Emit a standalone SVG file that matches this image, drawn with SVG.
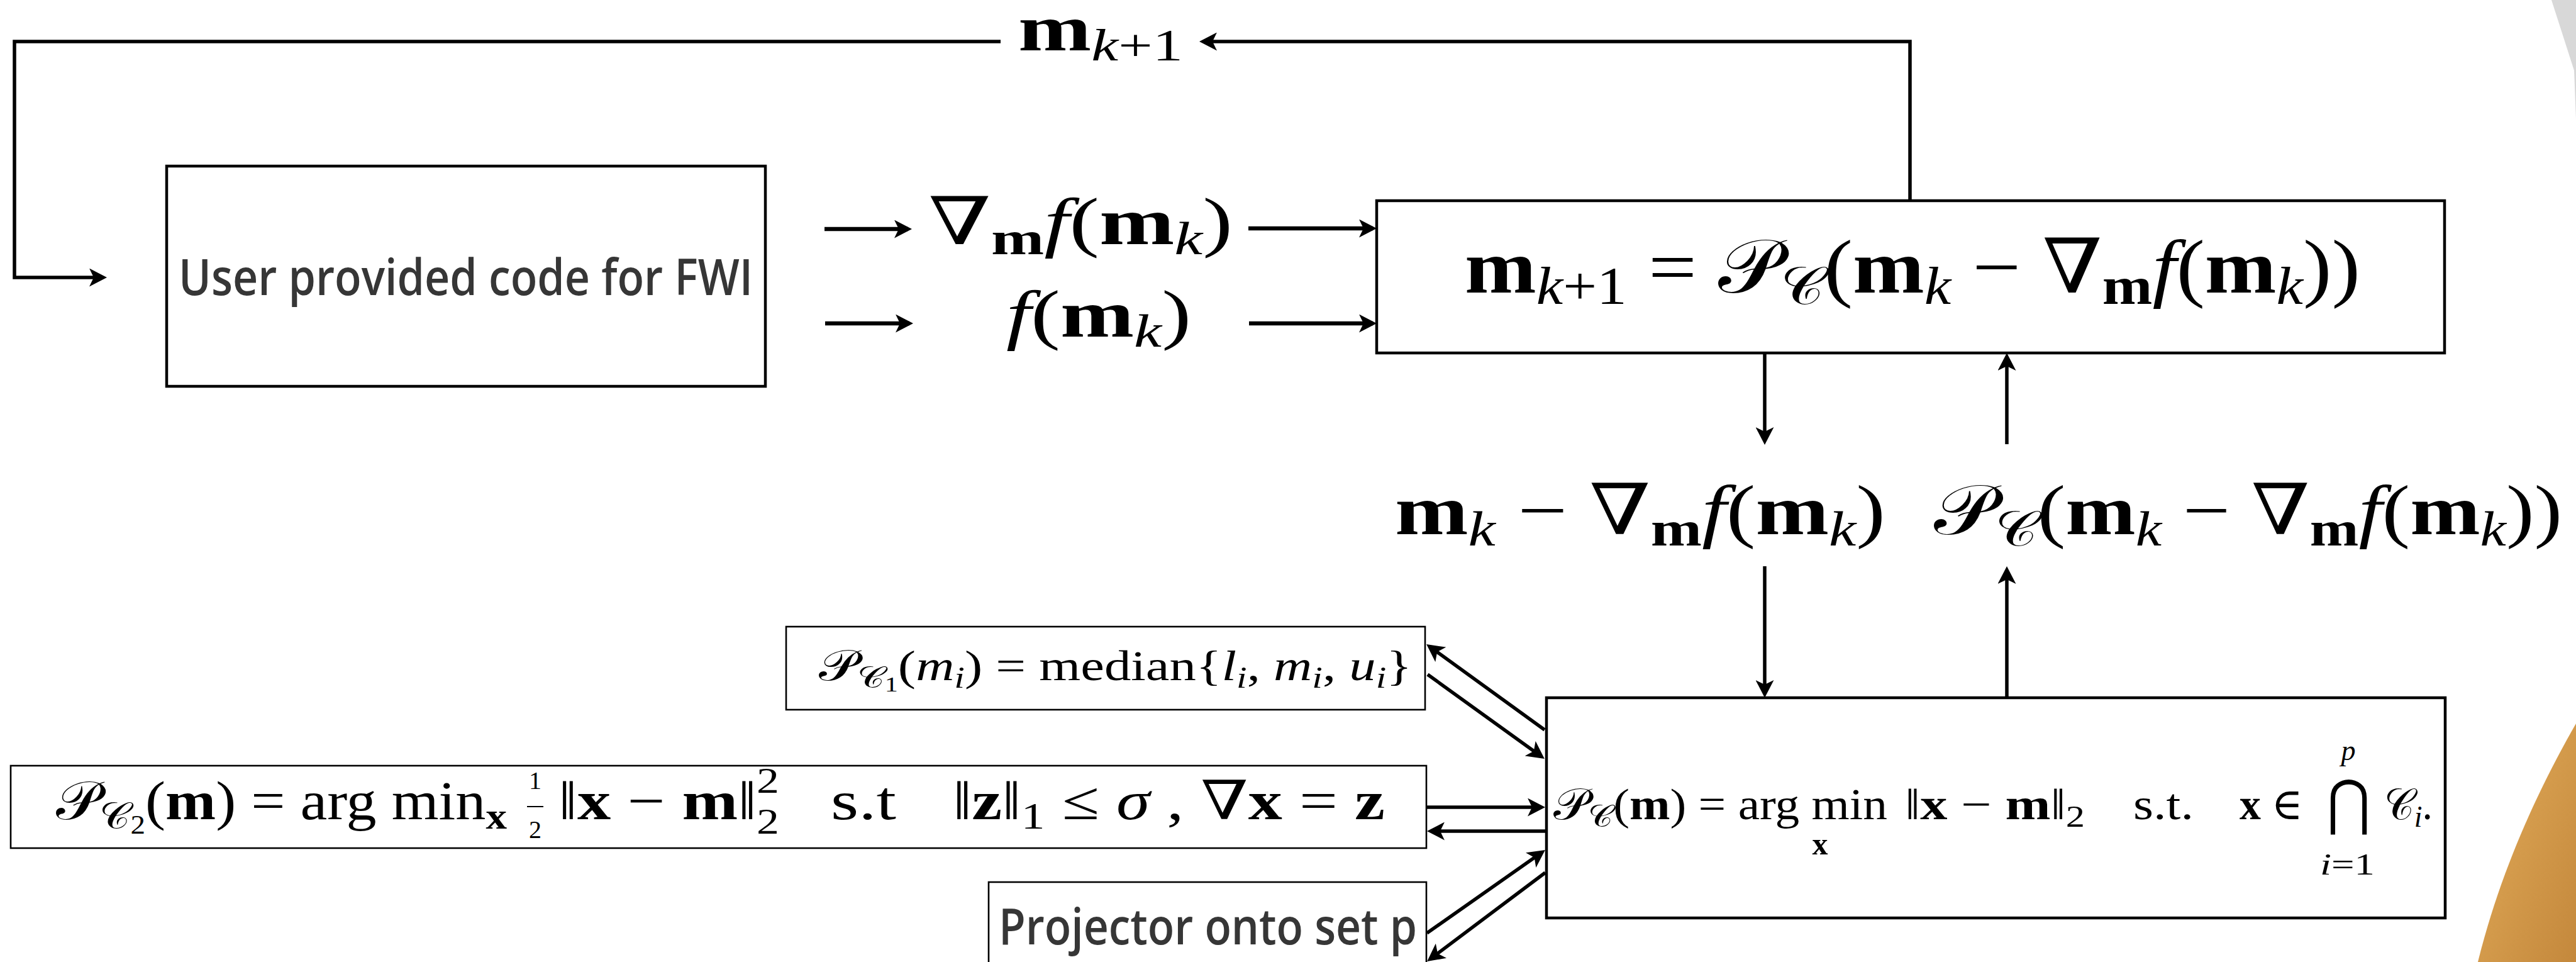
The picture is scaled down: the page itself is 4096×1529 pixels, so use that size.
<svg xmlns="http://www.w3.org/2000/svg" width="4096" height="1529" viewBox="0 0 4096 1529">
<style>
.m{font-family:"Liberation Serif","DejaVu Serif",serif;fill:#000}
.b{font-weight:bold}
.i{font-style:italic}
.c{font-style:normal}
.ui{font-family:"Open Sans","Liberation Sans",sans-serif;font-weight:600;fill:#363636}
.box{fill:#fff;stroke:#000;stroke-width:4.5}
.sbox{fill:#fff;stroke:#000;stroke-width:2.6}
.ln{fill:none;stroke:#000;stroke-width:5.5}
.thick{stroke-width:6.5}
</style>
<defs>
<marker id="ah" markerUnits="userSpaceOnUse" viewBox="0 0 28 29" markerWidth="28" markerHeight="29" refX="22" refY="14.5" orient="auto">
<path d="M0,0 L28,14.5 L0,29 L7,14.5 Z" fill="#000"/>
</marker>
<linearGradient id="og" x1="0" y1="0" x2="1" y2="1">
<stop offset="0" stop-color="#e2a85a"/>
<stop offset="0.5" stop-color="#d39a4b"/>
<stop offset="1" stop-color="#c4883c"/>
</linearGradient>
</defs>
<rect width="4096" height="1529" fill="#fff"/>
<g id="background">
<path d="M4057,0 L4093,112 L4096,190 L4096,0 Z" fill="#d8d8d8"/>
<path d="M4096,1150 C4046,1237 3979,1371 3940,1529 L4096,1529 Z" fill="url(#og)"/>
</g>
<g id="user-code">
<rect class="box" x="265" y="264" width="952" height="350"/>
<text class="ui" x="284" y="469" font-size="80" textLength="913" lengthAdjust="spacingAndGlyphs">User provided code for FWI</text>
</g>
<g id="update">
<rect class="box" x="2189" y="319" width="1698" height="242"/>
<text class="m" x="2329" y="465" font-size="120" textLength="1424" lengthAdjust="spacingAndGlyphs"><tspan class="b">m</tspan><tspan class="i" font-size="84" dy="18">k</tspan><tspan font-size="84">+1</tspan><tspan dy="-18"> = </tspan><tspan class="c">𝒫</tspan><tspan class="c" font-size="84" dy="18">𝒞</tspan><tspan dy="-18">(</tspan><tspan class="b">m</tspan><tspan class="i" font-size="84" dy="18">k</tspan><tspan dy="-18"> − ∇</tspan><tspan class="b" font-size="84" dy="18">m</tspan><tspan class="i" dy="-18">f</tspan><tspan>(</tspan><tspan class="b">m</tspan><tspan class="i" font-size="84" dy="18">k</tspan><tspan dy="-18">))</tspan></text>
</g>
<g id="projection">
<rect class="box" x="2459" y="1109" width="1429" height="350"/>
<text class="m" x="2470" y="1302" font-size="70" textLength="531" lengthAdjust="spacingAndGlyphs"><tspan class="c">𝒫</tspan><tspan class="c" font-size="49" dy="12">𝒞</tspan><tspan dy="-12">(</tspan><tspan class="b">m</tspan><tspan>) = arg min</tspan></text>
<text class="m b" x="2894" y="1358" font-size="50" text-anchor="middle">x</text>
<text class="m" x="3029" y="1302" font-size="70" textLength="286" lengthAdjust="spacingAndGlyphs"><tspan>‖</tspan><tspan class="b">x</tspan><tspan> − </tspan><tspan class="b">m</tspan><tspan>‖</tspan><tspan font-size="49" dy="12">2</tspan></text>
<text class="m" x="3392" y="1302" font-size="70" textLength="96" lengthAdjust="spacingAndGlyphs">s.t.</text>
<text class="m" x="3561" y="1302" font-size="70" textLength="101" lengthAdjust="spacingAndGlyphs"><tspan class="b">x</tspan><tspan> ∈</tspan></text>
<text class="m i" x="3734" y="1208" font-size="46" text-anchor="middle">p</text>
<text x="3700" y="1308" font-size="96" font-family="DejaVu Sans,sans-serif" textLength="69" lengthAdjust="spacingAndGlyphs">⋂</text>
<text class="m" x="3689" y="1390" font-size="48" textLength="87" lengthAdjust="spacingAndGlyphs"><tspan class="i">i</tspan><tspan>=1</tspan></text>
<text class="m" x="3791" y="1302" font-size="70" textLength="77" lengthAdjust="spacingAndGlyphs"><tspan class="c">𝒞</tspan><tspan class="i" font-size="49" dy="12">i</tspan><tspan dy="-12">.</tspan></text>
</g>
<g id="projector-c1">
<rect class="sbox" x="1250" y="996" width="1016" height="132"/>
<text class="m" x="1302" y="1081" font-size="68" textLength="943" lengthAdjust="spacingAndGlyphs"><tspan class="c">𝒫</tspan><tspan class="c" font-size="48" dy="12">𝒞</tspan><tspan font-size="34" dy="6">1</tspan><tspan dy="-18">(</tspan><tspan class="i">m</tspan><tspan class="i" font-size="48" dy="12">i</tspan><tspan dy="-12">) = median{</tspan><tspan class="i">l</tspan><tspan class="i" font-size="48" dy="12">i</tspan><tspan dy="-12">, </tspan><tspan class="i">m</tspan><tspan class="i" font-size="48" dy="12">i</tspan><tspan dy="-12">, </tspan><tspan class="i">u</tspan><tspan class="i" font-size="48" dy="12">i</tspan><tspan dy="-12">}</tspan></text>
</g>
<g id="projector-c2">
<rect class="sbox" x="17" y="1217" width="2251" height="131"/>
<text class="m" x="89" y="1302" font-size="86" textLength="717" lengthAdjust="spacingAndGlyphs"><tspan class="c">𝒫</tspan><tspan class="c" font-size="60" dy="15">𝒞</tspan><tspan font-size="42" dy="8">2</tspan><tspan dy="-23">(</tspan><tspan class="b">m</tspan><tspan>) = arg min</tspan><tspan class="b" font-size="60" dy="15">x</tspan></text>
<text class="m" x="851" y="1254" font-size="40" text-anchor="middle">1</text>
<line x1="838" y1="1282" x2="864" y2="1282" stroke="#000" stroke-width="2"/>
<text class="m" x="851" y="1332" font-size="40" text-anchor="middle">2</text>
<text class="m" x="888" y="1302" font-size="86" textLength="351" lengthAdjust="spacingAndGlyphs"><tspan>‖</tspan><tspan class="b">x</tspan><tspan> − </tspan><tspan class="b">m</tspan><tspan>‖</tspan><tspan font-size="58" dy="-42">2</tspan><tspan font-size="58" dx="-29" dy="65">2</tspan></text>
<text class="m" x="1321" y="1302" font-size="86" textLength="104" lengthAdjust="spacingAndGlyphs">s.t</text>
<text class="m" x="1515" y="1302" font-size="86" textLength="687" lengthAdjust="spacingAndGlyphs"><tspan>‖</tspan><tspan class="b">z</tspan><tspan>‖</tspan><tspan font-size="60" dy="15">1</tspan><tspan dy="-15"> ≤ </tspan><tspan class="i">σ</tspan><tspan> , ∇</tspan><tspan class="b">x</tspan><tspan> = </tspan><tspan class="b">z</tspan></text>
</g>
<g id="projector-p">
<rect class="sbox" x="1572" y="1402" width="696" height="200"/>
<text class="ui" x="1588" y="1501" font-size="80" textLength="665" lengthAdjust="spacingAndGlyphs">Projector onto set p</text>
</g>
<g id="labels">
<text class="m" x="1619" y="80" font-size="104" textLength="262" lengthAdjust="spacingAndGlyphs"><tspan class="b">m</tspan><tspan class="i" font-size="72" dy="16">k</tspan><tspan font-size="72">+1</tspan></text>
<text class="m" x="1476" y="388" font-size="105" textLength="484" lengthAdjust="spacingAndGlyphs"><tspan>∇</tspan><tspan class="b" font-size="74" dy="16">m</tspan><tspan class="i" dy="-16">f</tspan><tspan>(</tspan><tspan class="b">m</tspan><tspan class="i" font-size="74" dy="16">k</tspan><tspan dy="-16">)</tspan></text>
<text class="m" x="1600" y="535" font-size="105" textLength="294" lengthAdjust="spacingAndGlyphs"><tspan class="i">f</tspan><tspan>(</tspan><tspan class="b">m</tspan><tspan class="i" font-size="74" dy="16">k</tspan><tspan dy="-16">)</tspan></text>
<text class="m" x="2218" y="849" font-size="112" textLength="780" lengthAdjust="spacingAndGlyphs"><tspan class="b">m</tspan><tspan class="i" font-size="78" dy="18">k</tspan><tspan dy="-18"> − ∇</tspan><tspan class="b" font-size="78" dy="18">m</tspan><tspan class="i" dy="-18">f</tspan><tspan>(</tspan><tspan class="b">m</tspan><tspan class="i" font-size="78" dy="18">k</tspan><tspan dy="-18">)</tspan></text>
<text class="m" x="3075" y="849" font-size="112" textLength="999" lengthAdjust="spacingAndGlyphs"><tspan class="c">𝒫</tspan><tspan class="c" font-size="78" dy="18">𝒞</tspan><tspan dy="-18">(</tspan><tspan class="b">m</tspan><tspan class="i" font-size="78" dy="18">k</tspan><tspan dy="-18"> − ∇</tspan><tspan class="b" font-size="78" dy="18">m</tspan><tspan class="i" dy="-18">f</tspan><tspan>(</tspan><tspan class="b">m</tspan><tspan class="i" font-size="78" dy="18">k</tspan><tspan dy="-18">))</tspan></text>
</g>
<g id="connectors">
<path class="ln" d="M1591,66 H23 V441 H164" marker-end="url(#ah)"/>
<path class="ln" d="M3037,319 V66 H1913" marker-end="url(#ah)"/>
<path class="ln thick" d="M1311,364 H1444" marker-end="url(#ah)"/>
<path class="ln thick" d="M1312,514 H1446" marker-end="url(#ah)"/>
<path class="ln thick" d="M1985,363 H2183" marker-end="url(#ah)"/>
<path class="ln thick" d="M1986,514 H2183" marker-end="url(#ah)"/>
<path class="ln" d="M2806,561 V701" marker-end="url(#ah)"/>
<path class="ln" d="M3191,706 V567" marker-end="url(#ah)"/>
<path class="ln" d="M2806,900 V1103" marker-end="url(#ah)"/>
<path class="ln" d="M3191,1109 V906" marker-end="url(#ah)"/>
<path class="ln" d="M2456,1160 L2273,1027.5" marker-end="url(#ah)"/>
<path class="ln" d="M2270,1072 L2451,1202.5" marker-end="url(#ah)"/>
<path class="ln" d="M2269,1283 H2451" marker-end="url(#ah)"/>
<path class="ln" d="M2457,1321 H2275" marker-end="url(#ah)"/>
<path class="ln" d="M2269,1483 L2452,1354.4" marker-end="url(#ah)"/>
<path class="ln" d="M2457,1387 L2274,1524.4" marker-end="url(#ah)"/>
</g>
</svg>
